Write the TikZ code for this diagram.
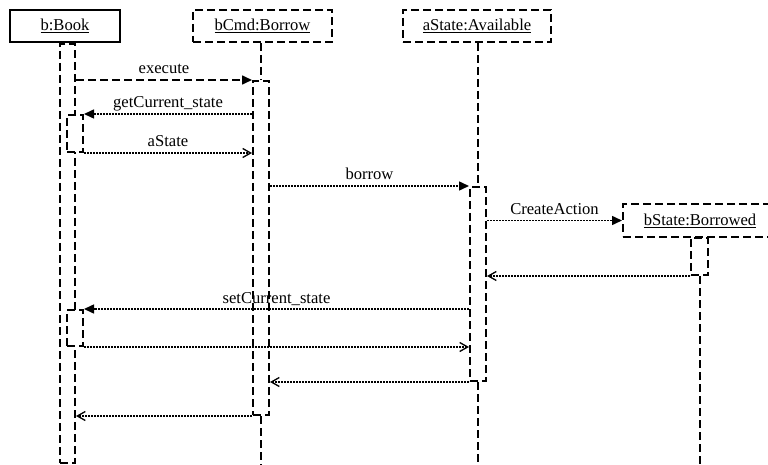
\documentclass[tikz,border=0pt]{standalone}
\usepackage{fontspec}
\setmainfont{Liberation Serif}
\usetikzlibrary{arrows.meta}
\begin{document}
\begin{tikzpicture}[x=1pt,y=-1pt,
  obj/.style={draw, line width=2pt, minimum height=32pt, inner sep=0pt, fill=white, font=\fontsize{16.6}{19}\selectfont},
  dobj/.style={obj, dash pattern=on 8pt off 4pt},
  life/.style={line width=2pt, dash pattern=on 8pt off 4pt},
  act/.style={draw, fill=white, line width=2pt, dash pattern=on 8pt off 4pt, inner sep=0pt, anchor=north},
  msgbase/.style={line width=1.5pt, dash pattern=on 2pt off 1pt},
  call/.style={msgbase, -{Triangle[length=10pt,width=9pt]}},
  ret/.style={msgbase, -{Straight Barb[length=8pt,width=9pt,line width=1.3pt]}},
  exec/.style={line width=1.6pt, dash pattern=on 8pt off 4pt, -{Triangle[length=10pt,width=9pt]}},
  lbl/.style={anchor=base, yshift=6pt, inner sep=0pt, font=\fontsize{16.6}{19}\selectfont}
]
\useasboundingbox (0,0) rectangle (768,465);
\fill[white] (0,0) rectangle (768,465);
\clip (0,0) rectangle (768,465);

% objects
\node[obj, minimum width=110pt] (book) at (65,26) {\underline{b:Book}};
\node[dobj, minimum width=139pt] (cmd) at (262.5,26) {\underline{bCmd:Borrow}};
\node[dobj, minimum width=148pt] (ast) at (477,26) {\underline{aState:Available}};

% activation bars
\node[act, minimum width=15pt, minimum height=419pt] (bookAct) at (67.5,43) {};
\node[act, minimum width=16pt, minimum height=334pt] (cmdAct) at (261,80) {};
\node[act, minimum width=16pt, minimum height=194pt] (aAct) at (478,186) {};
\node[act, minimum width=16pt, minimum height=37pt] (bookN1) at (75,114) {};
\node[act, minimum width=16pt, minimum height=36pt] (bookN2) at (75,309) {};

\node[dobj, minimum width=154pt] (bst) at (700,220.5) {\underline{bState:Borrowed}};
\node[act, minimum width=17pt, minimum height=37pt] (bAct) at (699.5,237) {};

% lifeline ends
\coordinate (cmdEnd) at (261,465);
\coordinate (aEnd) at (478,465);
\coordinate (bEnd) at (699.5,465);

% lifelines
\draw[life] (cmdAct.north |- cmd.south) -- (cmdAct.north);
\draw[life] (cmdAct.south) -- (cmdEnd);
\draw[life] (aAct.north |- ast.south) -- (aAct.north);
\draw[life] (aAct.south) -- (aEnd);
\draw[life] (bAct.south) -- (bEnd);

% messages
\draw[exec] (bookAct.east |- cmdAct.north) -- node[lbl]{execute} (cmdAct.north west);
\draw[call] (cmdAct.west |- bookN1.north) -- node[lbl]{getCurrent\_state} (bookN1.north east);
\draw[ret] (bookN1.south east) -- node[lbl]{aState} (cmdAct.west |- bookN1.south);
\draw[call] (cmdAct.east |- aAct.north) -- node[lbl]{borrow} (aAct.north west);
\draw[call] (aAct.east |- bst.west) -- node[lbl]{CreateAction} (bst.west);
\draw[ret] (bAct.south west) -- (aAct.east |- bAct.south);
\draw[call] (aAct.west |- bookN2.north) -- node[lbl]{setCurrent\_state} (bookN2.north east);
\draw[ret] (bookN2.south east) -- (aAct.west |- bookN2.south);
\draw[ret] (aAct.south west) -- (cmdAct.east |- aAct.south);
\draw[ret] (cmdAct.south west) -- (bookAct.east |- cmdAct.south);
\end{tikzpicture}
\end{document}
